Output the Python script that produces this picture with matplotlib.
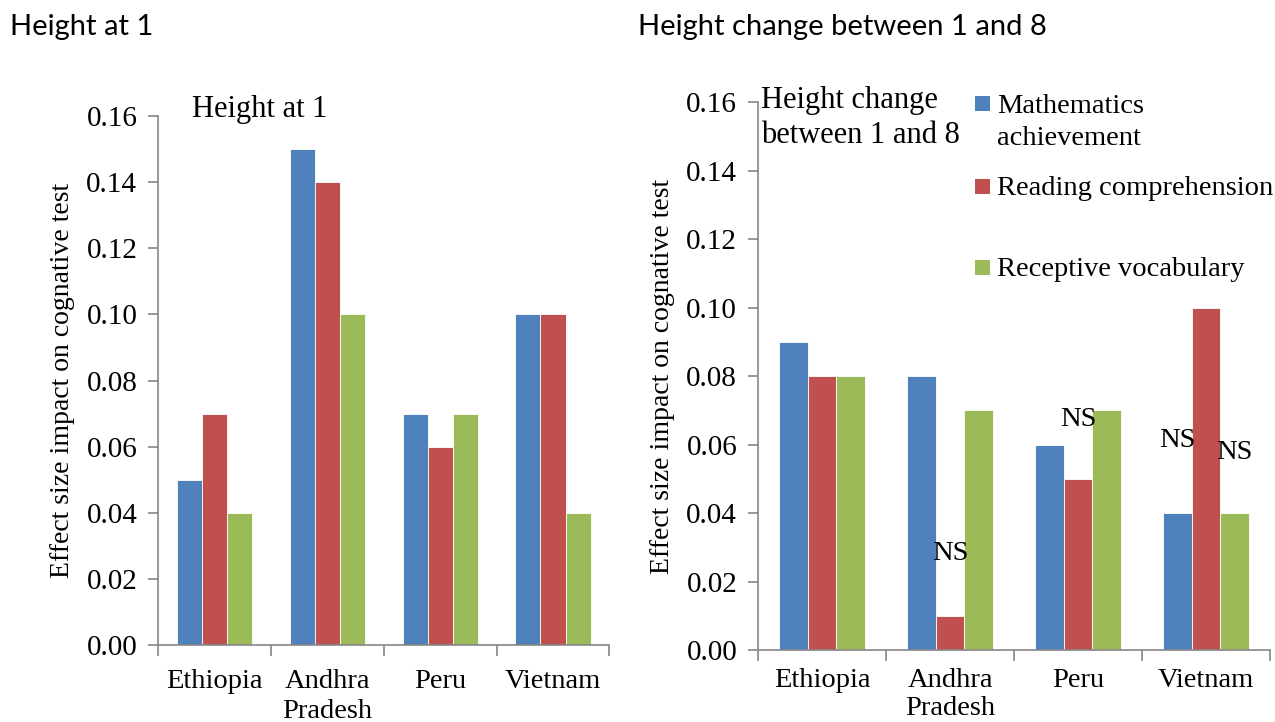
import numpy as np
import matplotlib.pyplot as plt
from matplotlib.patches import Rectangle
from matplotlib.ticker import FormatStrFormatter, FixedLocator

# data
countries = ["Ethiopia", "Andhra\nPradesh", "Peru", "Vietnam"]
series_names = ["Mathematics\nachievement", "Reading comprehension", "Receptive vocabulary"]
colors = ["#4F81BD", "#C0504D", "#9BBB59"]

h1_math = [0.05, 0.15, 0.07, 0.10]
h1_reading = [0.07, 0.14, 0.06, 0.10]
h1_vocab = [0.04, 0.10, 0.07, 0.04]

ch_math = [0.09, 0.08, 0.06, 0.04]
ch_reading = [0.08, 0.01, 0.05, 0.10]
ch_vocab = [0.08, 0.07, 0.07, 0.04]

# NS labels on right panel: (country index, series index, label height)
ns_labels = [(1, 1, 0.0283), (2, 1, 0.0672), (3, 0, 0.0613), (3, 2, 0.0578)]

serif = "Liberation Serif"
sans = "Lato"
axis_gray = "#868686"
fs = 20.5

fig = plt.figure(figsize=(12.75, 7.22), dpi=100)
ax1 = fig.add_axes([0.124, 0.1066, 0.354, 0.7327])
ax2 = fig.add_axes([0.5945, 0.0997, 0.4016, 0.759])

w = 1 / 4.5
x = np.arange(len(countries))


def draw(ax, data, pad, lsp):
    for i, vals in enumerate(data):
        ax.bar(x + (i - 1) * w, vals, w, color=colors[i], edgecolor="white",
               linewidth=0.6, label=series_names[i], zorder=2)
    ax.set_xlim(-0.5, len(countries) - 0.5)
    ax.set_ylim(0, 0.16)
    ax.set_yticks(np.arange(0, 0.161, 0.02))
    ax.yaxis.set_major_formatter(FormatStrFormatter("%.2f"))
    ax.set_xticks(x)
    ax.set_xticklabels(countries, fontfamily=serif, fontsize=fs, linespacing=lsp)
    ax.xaxis.set_minor_locator(FixedLocator(np.arange(-0.5, len(countries), 1)))
    ax.tick_params(axis="x", which="major", length=0, pad=pad)
    ax.tick_params(axis="x", which="minor", length=8, color=axis_gray, width=1.2)
    ax.tick_params(axis="y", length=7, color=axis_gray, width=1.2, pad=8)
    for lab in ax.get_yticklabels():
        lab.set_fontfamily(serif)
        lab.set_fontsize(21)
    for s in ["top", "right"]:
        ax.spines[s].set_visible(False)
    for s in ["left", "bottom"]:
        ax.spines[s].set_color(axis_gray)
        ax.spines[s].set_linewidth(1.2)
    ax.set_ylabel("Effect size impact on cognative test", fontfamily=serif,
                  fontsize=20, labelpad=8)


draw(ax1, [h1_math, h1_reading, h1_vocab], 17, 1.3)
draw(ax2, [ch_math, ch_reading, ch_vocab], 13, 1.15)

ax1.text(0.075, 1.04, "Height at 1", transform=ax1.transAxes, fontfamily=serif,
         fontsize=22, va="top", ha="left")
ax2.text(0.005, 1.03, "Height change\nbetween 1 and 8", transform=ax2.transAxes,
         fontfamily=serif, fontsize=22, va="top", ha="left", linespacing=1.3)

for ci, si, yv in ns_labels:
    ax2.text(x[ci] + (si - 1) * w, yv, "NS", fontfamily=serif, fontsize=fs,
             ha="center", va="center")

# legend, Excel style: marker level with first line of each label
leg_y = [0.9964, 0.8467, 0.6989]
for name, c, yy in zip(series_names, colors, leg_y):
    ax2.add_patch(Rectangle((0.4238, yy - 0.0137), 0.0293, 0.0274, facecolor=c,
                            transform=ax2.transAxes, clip_on=False))
    ax2.text(0.4668, yy + 0.018, name, transform=ax2.transAxes, fontfamily=serif,
             fontsize=fs, va="top", ha="left", linespacing=1.35)

fig.text(0.008, 0.962, "Height at 1", fontfamily=sans, fontsize=21, va="center")
fig.text(0.5, 0.962, "Height change between 1 and 8", fontfamily=sans, fontsize=21,
         va="center")

fig.savefig("out.png", dpi=100)
